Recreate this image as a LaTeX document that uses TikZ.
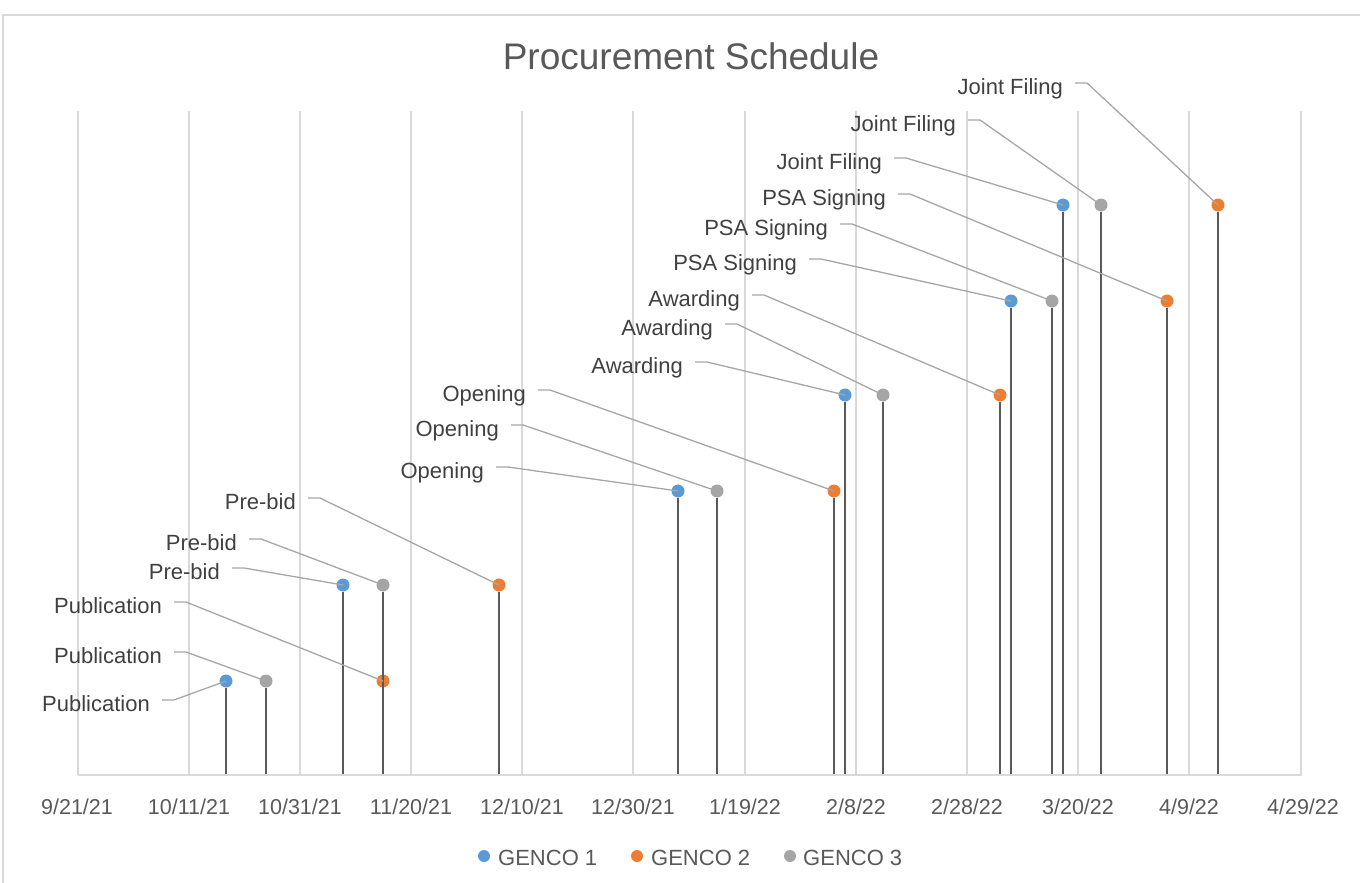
\documentclass[tikz,border=0pt]{standalone}
\usepackage{fontspec}
\setmainfont{Liberation Sans}
\definecolor{genone}{HTML}{5B9BD5}
\definecolor{gentwo}{HTML}{ED7D31}
\definecolor{genthree}{HTML}{A5A5A5}
\definecolor{gridgray}{HTML}{D9D9D9}
\definecolor{leadgray}{HTML}{A6A6A6}
\definecolor{stemgray}{HTML}{595959}
\definecolor{textdark}{HTML}{404040}
\definecolor{textmid}{HTML}{595959}
\tikzset{
  frameline/.style={draw=gridgray,line width=1.5pt},
  gridline/.style={draw=gridgray,line width=1.3pt},
  axisline/.style={draw=gridgray,line width=2pt},
  dot/.style={circle,inner sep=0pt,minimum size=13pt},
  gone/.style={dot,fill=genone},
  gtwo/.style={dot,fill=gentwo},
  gthree/.style={dot,fill=genthree},
  stemline/.style={draw=stemgray,line width=2.2pt},
  leader/.style={draw=leadgray,line width=1.3pt},
  lbl/.style={anchor=east,inner sep=0pt,text height=23pt,text depth=0pt,
    text=textdark,font=\fontsize{22}{26}\selectfont},
  datetick/.style={anchor=base,inner sep=0pt,text=textmid,
    font=\fontsize{21.5}{26}\selectfont},
  legendtext/.style={anchor=base west,inner sep=0pt,text=textmid,
    font=\fontsize{22}{26}\selectfont},
  charttitle/.style={anchor=base,inner sep=0pt,text=textmid,
    font=\fontsize{37}{42}\selectfont}
}
\begin{document}
\begin{tikzpicture}[x=1pt,y=-1pt]
  \useasboundingbox (0,0) rectangle (1360,883);
  % chart frame and grid
  \draw[frameline] (3,883) -- (3,15) -- (1360,15);
  \draw[gridline]
    (78,111) -- (78,775)
    (189,111) -- (189,775)
    (300,111) -- (300,775)
    (411,111) -- (411,775)
    (522,111) -- (522,775)
    (633,111) -- (633,775)
    (745,111) -- (745,775)
    (856,111) -- (856,775)
    (967,111) -- (967,775)
    (1078,111) -- (1078,775)
    (1189,111) -- (1189,775)
    (1301,111) -- (1301,775);
  \draw[axisline] (78,775) -- (1302,775);
  \coordinate (base) at (78,774);
  \node[charttitle] (title) at (691,70) {Procurement Schedule};
  % date axis
  \draw
    (77,814) node[datetick] (d0){9/21/21}
    (189,814) node[datetick] (d1){10/11/21}
    (300,814) node[datetick] (d2){10/31/21}
    (411,814) node[datetick] (d3){11/20/21}
    (522,814) node[datetick] (d4){12/10/21}
    (633,814) node[datetick] (d5){12/30/21}
    (745,814) node[datetick] (d6){1/19/22}
    (856,814) node[datetick] (d7){2/8/22}
    (967,814) node[datetick] (d8){2/28/22}
    (1078,814) node[datetick] (d9){3/20/22}
    (1189,814) node[datetick] (d10){4/9/22}
    (1303,814) node[datetick] (d11){4/29/22};
  % milestones
  \draw
    (226,681) node[gone] (g1pub){}
    (266,681) node[gthree] (g3pub){}
    (383,681) node[gtwo] (g2pub){}
    (343,585) node[gone] (g1pre){}
    (383,585) node[gthree] (g3pre){}
    (499,585) node[gtwo] (g2pre){}
    (678,491) node[gone] (g1opn){}
    (717,491) node[gthree] (g3opn){}
    (834,491) node[gtwo] (g2opn){}
    (845,395) node[gone] (g1awd){}
    (883,395) node[gthree] (g3awd){}
    (1000,395) node[gtwo] (g2awd){}
    (1011,301) node[gone] (g1psa){}
    (1052,301) node[gthree] (g3psa){}
    (1167,301) node[gtwo] (g2psa){}
    (1063,205) node[gone] (g1jf){}
    (1101,205) node[gthree] (g3jf){}
    (1218,205) node[gtwo] (g2jf){};
  \begin{scope}[stemline]
    \draw (g1pub.south) -- (g1pub |- base);
    \draw (g3pub.south) -- (g3pub |- base);
    \draw (g2pub.south) -- (g2pub |- base);
    \draw (g1pre.south) -- (g1pre |- base);
    \draw (g3pre.south) -- (g3pre |- base);
    \draw (g2pre.south) -- (g2pre |- base);
    \draw (g1opn.south) -- (g1opn |- base);
    \draw (g3opn.south) -- (g3opn |- base);
    \draw (g2opn.south) -- (g2opn |- base);
    \draw (g1awd.south) -- (g1awd |- base);
    \draw (g3awd.south) -- (g3awd |- base);
    \draw (g2awd.south) -- (g2awd |- base);
    \draw (g1psa.south) -- (g1psa |- base);
    \draw (g3psa.south) -- (g3psa |- base);
    \draw (g2psa.south) -- (g2psa |- base);
    \draw (g1jf.south) -- (g1jf |- base);
    \draw (g3jf.south) -- (g3jf |- base);
    \draw (g2jf.south) -- (g2jf |- base);
  \end{scope}
  % data labels
  \draw
    (150,700) node[lbl] (l1pub){Publication}
    (162,652) node[lbl] (l3pub){Publication}
    (162,602) node[lbl] (l2pub){Publication}
    (220,568) node[lbl] (l1pre){Pre-bid}
    (237,539) node[lbl] (l3pre){Pre-bid}
    (296,498) node[lbl] (l2pre){Pre-bid}
    (484,467) node[lbl] (l1opn){Opening}
    (499,425) node[lbl] (l3opn){Opening}
    (526,390) node[lbl] (l2opn){Opening}
    (683,362) node[lbl] (l1awd){Awarding}
    (713,324) node[lbl] (l3awd){Awarding}
    (740,295) node[lbl] (l2awd){Awarding}
    (797,259) node[lbl] (l1psa){PSA Signing}
    (828,224) node[lbl] (l3psa){PSA Signing}
    (886,194) node[lbl] (l2psa){PSA Signing}
    (882,158) node[lbl] (l1jf){Joint Filing}
    (956,120) node[lbl] (l3jf){Joint Filing}
    (1063,83) node[lbl] (l2jf){Joint Filing};
  \begin{scope}[leader]
    \draw ([xshift=12]l1pub.east) -- ++(12,0) -- (g1pub.center);
    \draw ([xshift=12]l3pub.east) -- ++(12,0) -- (g3pub.center);
    \draw ([xshift=12]l2pub.east) -- ++(12,0) -- (g2pub.center);
    \draw ([xshift=12]l1pre.east) -- ++(12,0) -- (g1pre.center);
    \draw ([xshift=12]l3pre.east) -- ++(12,0) -- (g3pre.center);
    \draw ([xshift=12]l2pre.east) -- ++(12,0) -- (g2pre.center);
    \draw ([xshift=12]l1opn.east) -- ++(12,0) -- (g1opn.center);
    \draw ([xshift=12]l3opn.east) -- ++(12,0) -- (g3opn.center);
    \draw ([xshift=12]l2opn.east) -- ++(12,0) -- (g2opn.center);
    \draw ([xshift=12]l1awd.east) -- ++(12,0) -- (g1awd.center);
    \draw ([xshift=12]l3awd.east) -- ++(12,0) -- (g3awd.center);
    \draw ([xshift=12]l2awd.east) -- ++(12,0) -- (g2awd.center);
    \draw ([xshift=12]l1psa.east) -- ++(12,0) -- (g1psa.center);
    \draw ([xshift=12]l3psa.east) -- ++(12,0) -- (g3psa.center);
    \draw ([xshift=12]l2psa.east) -- ++(12,0) -- (g2psa.center);
    \draw ([xshift=12]l1jf.east) -- ++(12,0) -- (g1jf.center);
    \draw ([xshift=12]l3jf.east) -- ++(12,0) -- (g3jf.center);
    \draw ([xshift=12]l2jf.east) -- ++(12,0) -- (g2jf.center);
  \end{scope}
  % legend
  \draw
    (484,856) node[gone,minimum size=12pt] (k1){}
    (637,856) node[gtwo,minimum size=12pt] (k2){}
    (790,856) node[gthree,minimum size=12pt] (k3){}
    (498,865) node[legendtext] (k1t){GENCO 1}
    (651,865) node[legendtext] (k2t){GENCO 2}
    (803,865) node[legendtext] (k3t){GENCO 3};
\end{tikzpicture}
\end{document}
